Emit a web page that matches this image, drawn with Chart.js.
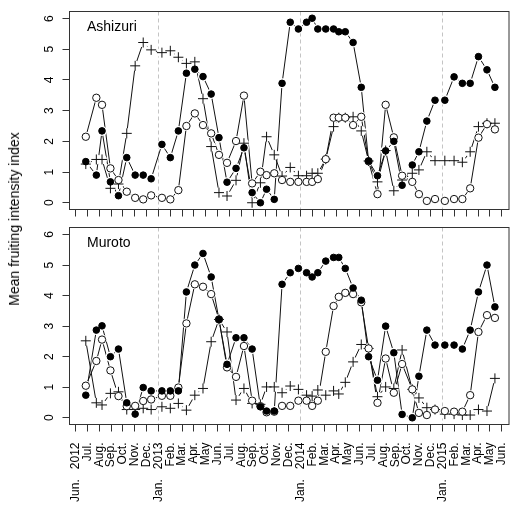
<!DOCTYPE html>
<html>
<head>
<meta charset="utf-8">
<script src="https://cdn.jsdelivr.net/npm/chart.js@4.4.0/dist/chart.umd.min.js"></script>
<style>
  body { margin: 0; background: #fff; }
  #wrap { position: relative; width: 515px; height: 506px; overflow: hidden; font-family: "Liberation Sans", Arial, sans-serif; }
  canvas { position: absolute; left: 0; }
  #top { top: 0; }
  #bottom { top: 215px; }
  #ytitle { position: absolute; left: 14px; top: 219px; width: max-content; transform: translate(-50%, -50%) rotate(-90deg); white-space: nowrap; font-size: 14px; color: #000; }
</style>
</head>
<body>
<div id="wrap">
  <canvas id="top" width="515" height="220"></canvas>
  <canvas id="bottom" width="515" height="291"></canvas>
  <div id="ytitle">Mean fruiting intensity index</div>
</div>
<script>
// tick labels, one per month from Jun. 2012 (0) to Jun. 2015 (36)
const monthLabels = [
  'Jun.   2012', 'Jul.', 'Aug.', 'Sep.', 'Oct.', 'Nov.', 'Dec.',
  'Jan.   2013', 'Feb.', 'Mar.', 'Apr.', 'May', 'Jun.', 'Jul.', 'Aug.', 'Sep.', 'Oct.', 'Nov.', 'Dec.',
  'Jan.   2014', 'Feb.', 'Mar.', 'Apr.', 'May', 'Jun.', 'Jul.', 'Aug.', 'Sep.', 'Oct.', 'Nov.', 'Dec.',
  'Jan.   2015', 'Feb.', 'Mar.', 'Apr.', 'May', 'Jun.'
];
const janTicks = [7, 19, 31];
const yTicks = [0, 1, 2, 3, 4, 5, 6];

// survey dates, in months after Jun. 2012
const sampleMonths = [
  0.86, 1.75, 2.23, 2.94, 3.62, 4.32, 5.03, 5.71, 6.38, 7.29, 8.0, 8.68, 9.36,
  10.07, 10.76, 11.45, 12.11, 12.79, 13.55, 14.22, 14.91, 15.61, 16.13, 16.78, 17.44, 18.13,
  18.82, 19.51, 19.98, 20.46, 21.13, 21.79, 22.23, 22.78, 23.44, 24.13, 24.75, 25.5, 26.19,
  26.88, 27.58, 28.44, 29.0, 29.67, 30.36, 31.19, 31.97, 32.67, 33.33, 34.03, 34.75, 35.42
];

const ashizuriFilled = [
  1.34, 0.90, 2.34, 0.68, 0.23, 1.47, 0.90, 0.90, 0.78, 1.90, 1.47, 2.34, 4.22,
  4.35, 4.11, 3.54, 2.12, 0.67, 1.12, 1.79, 0.33, 0.00, 0.44, 0.11, 3.89, 5.88,
  5.66, 5.88, 6.01, 5.66, 5.66, 5.66, 5.57, 5.57, 5.22, 3.76, 1.36, 0.88, 1.69,
  2.00, 0.57, 1.23, 1.66, 2.66, 3.34, 3.34, 4.10, 3.89, 3.89, 4.76, 4.33, 3.76
];
const ashizuriOpen = [
  2.15, 3.42, 3.19, 1.12, 0.74, 0.36, 0.16, 0.11, 0.24, 0.16, 0.11, 0.41, 2.50,
  2.91, 2.53, 2.26, 1.56, 1.30, 2.01, 3.49, 0.63, 1.01, 0.90, 0.96, 0.74, 0.68,
  0.68, 0.68, 0.68, 0.77, 1.42, 2.77, 2.77, 2.77, 2.53, 2.80, 1.35, 0.28, 3.19,
  2.13, 0.88, 0.68, 0.28, 0.06, 0.12, 0.06, 0.12, 0.12, 0.47, 2.12, 2.56, 2.39
];
const ashizuriCross = [
  1.26, 1.41, 1.41, 0.47, 0.61, 2.26, 4.46, 5.22, 4.98, 4.89, 4.95, 4.74, 4.54,
  4.59, 3.39, 1.83, 0.33, 0.22, 0.73, 1.94, 0.00, 0.65, 2.15, 1.56, 0.87, 1.15,
  0.88, 0.88, 0.96, 0.96, 1.42, 2.48, 2.77, 2.77, 2.80, 2.34, 1.36, 0.68, 1.70,
  0.39, 0.74, 0.96, 1.07, 1.66, 1.37, 1.37, 1.37, 1.32, 1.66, 2.48, 2.59, 2.59
];

const murotoFilled = [
  0.74, 2.87, 3.01, 2.00, 2.25, 0.49, 0.12, 0.99, 0.88, 0.88, 0.88, 0.88, 4.12,
  5.00, 5.38, 4.61, 3.22, 1.75, 2.62, 2.62, 2.25, 0.36, 0.22, 0.22, 4.37, 4.75,
  4.89, 4.75, 4.61, 4.75, 5.13, 5.25, 5.25, 4.89, 4.25, 3.85, 2.00, 1.23, 3.00,
  2.13, 0.11, 0.00, 1.36, 2.87, 2.38, 2.38, 2.38, 2.25, 2.87, 4.12, 5.00, 3.63
];
const murotoOpen = [
  1.05, 1.86, 2.56, 1.55, 0.71, 0.38, 0.39, 0.55, 0.60, 0.72, 0.72, 0.99, 3.09,
  4.37, 4.29, 4.05, 3.22, 1.65, 1.34, 2.35, 0.56, 0.38, 0.18, 0.20, 0.39, 0.39,
  0.56, 0.56, 0.39, 0.56, 2.16, 3.66, 3.96, 4.09, 4.05, 3.78, 2.27, 0.49, 1.94,
  0.82, 1.76, 0.93, 0.16, 0.09, 0.27, 0.22, 0.20, 0.20, 0.74, 2.81, 3.36, 3.27
];
const murotoCross = [
  2.52, 0.49, 0.42, 0.80, 0.85, 0.27, 0.27, 0.31, 0.27, 0.36, 0.31, 0.47, 0.25,
  0.74, 0.96, 2.49, 3.22, 2.81, 0.58, 0.96, 0.47, 0.44, 1.01, 1.01, 0.82, 1.04,
  0.93, 0.74, 0.71, 0.91, 0.74, 0.88, 0.78, 1.16, 1.83, 2.40, 2.27, 0.69, 1.01,
  0.96, 2.22, 0.93, 0.65, 0.33, 0.27, 0.12, 0.12, 0.09, 0.09, 0.27, 0.22, 1.29
];

const FONT = '"Liberation Sans", Arial, sans-serif';

const toXY = vals => sampleMonths.map((m, i) => ({ x: m, y: vals[i] }));

// Chart.js paints dataset 0 last, so the list goes: marks, white halos
// (the small gaps of an R "b" plot), then the plain lines underneath
function makeSets(filled, open, cross) {
  const series = [filled, open, cross];
  const marks = [
    { data: toXY(filled), showLine: false, pointStyle: 'circle', pointRadius: 3.3,
      pointBackgroundColor: '#000', pointBorderColor: '#000', pointBorderWidth: 1 },
    { data: toXY(open), showLine: false, pointStyle: 'circle', pointRadius: 3.7,
      pointBackgroundColor: '#fff', pointBorderColor: '#111', pointBorderWidth: 1 },
    { data: toXY(cross), showLine: false, pointStyle: 'cross', pointRadius: 5,
      pointBorderColor: '#111', pointBorderWidth: 1 }
  ];
  const halos = series.map(v => ({ data: toXY(v), showLine: false, pointStyle: 'circle',
    pointRadius: 5, pointBackgroundColor: '#fff', pointBorderWidth: 0, pointBorderColor: '#fff' }));
  const lines = series.map(v => ({ data: toXY(v), borderColor: '#111', borderWidth: 1,
    pointRadius: 0, fill: false, tension: 0 }));
  return marks.concat(halos, lines);
}

// box round the plot area and the site name
const framePlugin = {
  id: 'frame',
  afterDraw(chart, args, opts) {
    const { ctx, chartArea: a } = chart;
    ctx.save();
    ctx.strokeStyle = '#333';
    ctx.lineWidth = 1;
    ctx.strokeRect(a.left, a.top, a.right - a.left, a.bottom - a.top);
    ctx.fillStyle = '#000';
    ctx.font = '14px ' + FONT;
    ctx.textBaseline = 'alphabetic';
    ctx.fillText(opts.label, a.left + 17.5, a.top + 19.8);
    ctx.restore();
  }
};

function makeChart(id, site, filled, open, cross, showLabels, padTop, xHeight) {
  return new Chart(document.getElementById(id), {
    type: 'line',
    data: { datasets: makeSets(filled, open, cross) },
    plugins: [framePlugin],
    options: {
      responsive: false,
      animation: false,
      layout: { padding: { top: padTop, left: 0, right: 0, bottom: 0 } },
      plugins: {
        legend: { display: false },
        tooltip: { enabled: false },
        frame: { label: site }
      },
      scales: {
        x: {
          type: 'linear',
          min: -0.517,
          max: 36.61,
          afterBuildTicks: s => { s.ticks = monthLabels.map((t, i) => ({ value: i })); },
          afterFit: s => { s.height = xHeight; s.paddingLeft = 0; s.paddingRight = 0; },
          ticks: {
            display: showLabels,
            autoSkip: false,
            minRotation: 90,
            maxRotation: 90,
            padding: 11,
            color: '#000',
            font: { family: FONT, size: 12 },
            callback: v => monthLabels[v]
          },
          grid: {
            drawOnChartArea: true,
            color: c => (c.tick && janTicks.includes(c.tick.value)) ? '#c4c4c4' : 'rgba(0,0,0,0)',
            tickColor: '#333',
            tickLength: 7,
            lineWidth: 1
          },
          border: { display: false, dash: [4, 3] }
        },
        y: {
          min: -0.22,
          max: 6.23,
          afterBuildTicks: s => { s.ticks = yTicks.map(v => ({ value: v })); },
          afterFit: s => { s.width = 69.5; s.paddingTop = 0; s.paddingBottom = 0; },
          ticks: {
            minRotation: 90,
            maxRotation: 90,
            crossAlign: 'center',
            padding: 9.5,
            color: '#000',
            font: { family: FONT, size: 12 }
          },
          grid: { drawOnChartArea: false, tickColor: '#333', tickLength: 7 },
          border: { display: false }
        }
      }
    }
  });
}

makeChart('top', 'Ashizuri', ashizuriFilled, ashizuriOpen, ashizuriCross, false, 11.5, 10.5);
makeChart('bottom', 'Muroto', murotoFilled, murotoOpen, murotoCross, true, 12.5, 81.5);
</script>
</body>
</html>
